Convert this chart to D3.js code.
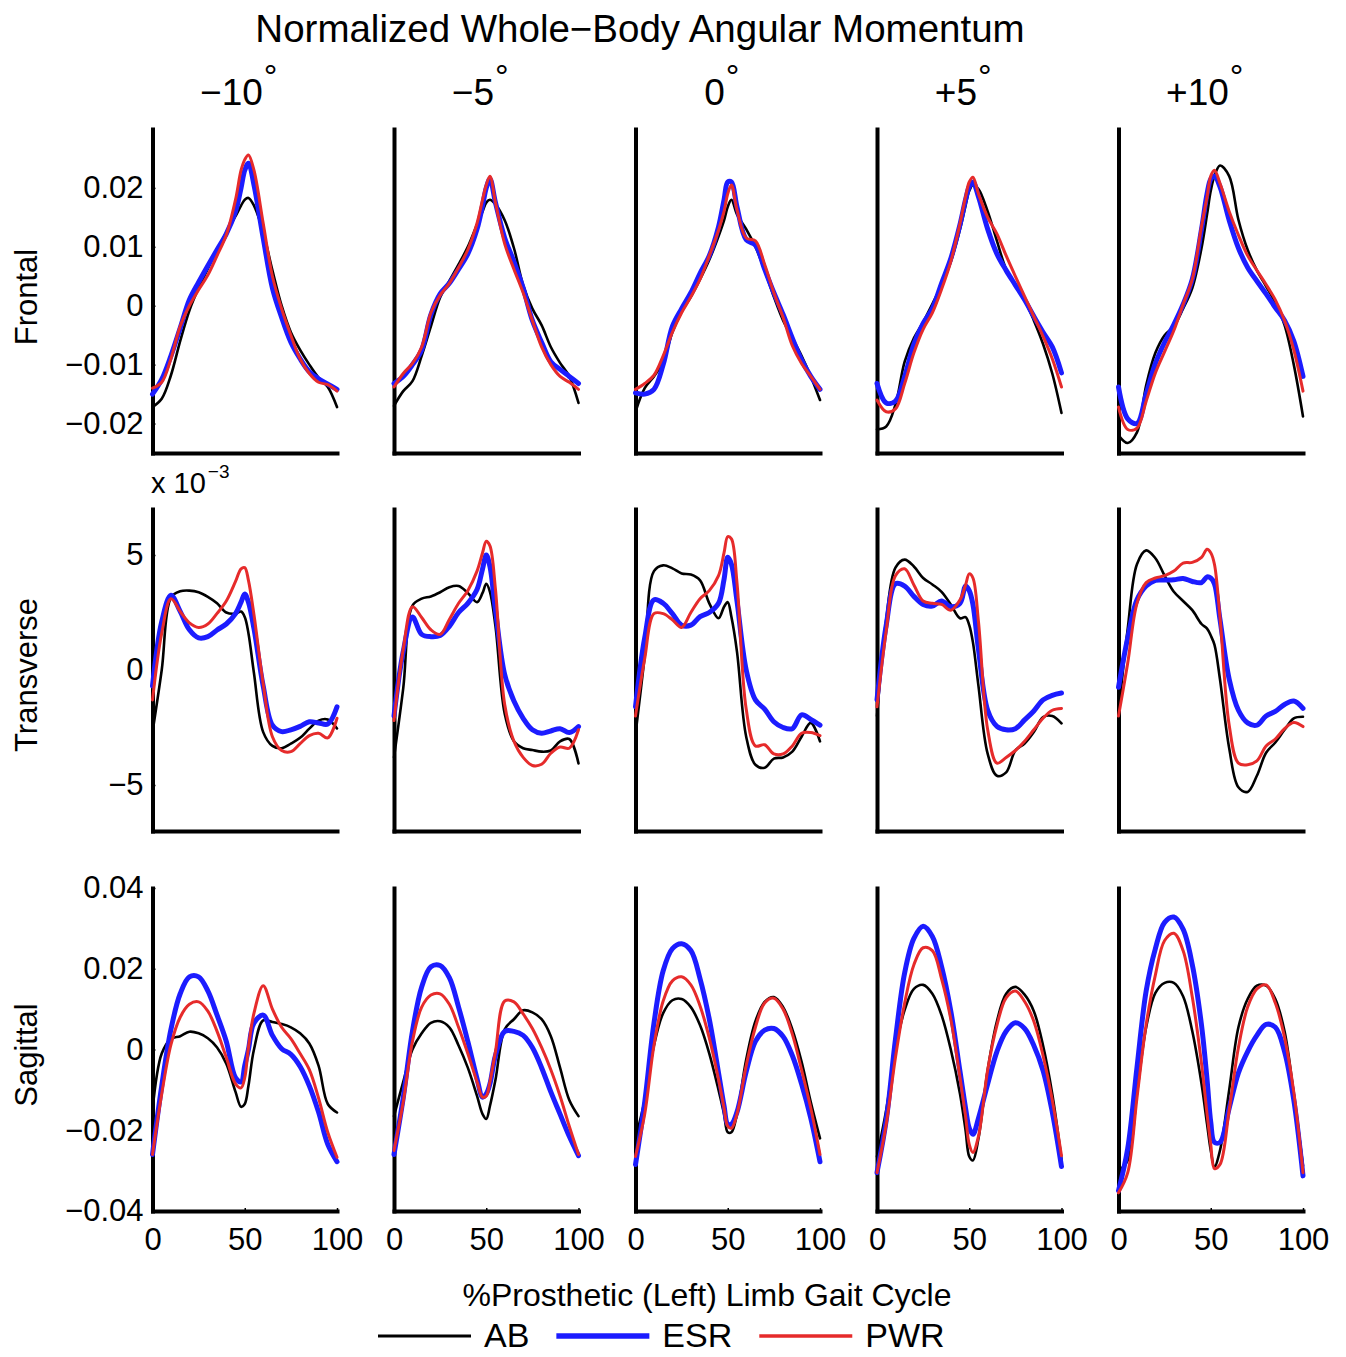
<!DOCTYPE html>
<html><head><meta charset="utf-8">
<script src="https://cdn.jsdelivr.net/npm/d3@7"></script>
<style>
body{margin:0;background:#fff}
svg{display:block}
text{font-family:"Liberation Sans",Arial,Helvetica,sans-serif;fill:#000}
</style>
</head><body>
<svg id="chart" width="1346" height="1357"></svg>
<script>
// ---------- DATA ----------
const gaitPct = [0,5,10,15,20,25,30,35,40,45,48,50,52,55,60,65,70,75,80,85,90,95,100];
const conditions = ["\u221210","\u22125","0","+5","+10"];
const planes = ["Frontal","Transverse","Sagittal"];
const groups = ["AB","ESR","PWR"];

const frontalTicks = [-0.02,-0.01,0,0.01,0.02];
const frontalTickLabels = ["\u22120.02","\u22120.01","0","0.01","0.02"];
const transverseTicks = [-5,0,5];            // x 10^-3
const transverseTickLabels = ["\u22125","0","5"];
const sagittalTicks = [-0.04,-0.02,0,0.02,0.04];
const sagittalTickLabels = ["\u22120.04","\u22120.02","0","0.02","0.04"];
const xTicks = [0,50,100];
const xTickLabels = ["0","50","100"];

// Frontal (one array per condition: -10, -5, 0, +5, +10)
const frontalAB = [
 [-0.0172,-0.0158,-0.0118,-0.006,-0.0008,0.003,0.0063,0.0095,0.0124,0.0152,0.017,0.018,0.0183,0.017,0.0125,0.006,0.0,-0.0045,-0.0075,-0.01,-0.0122,-0.0138,-0.0172],
 [-0.017,-0.0145,-0.0128,-0.0085,-0.0035,0.0014,0.0042,0.007,0.01,0.0138,0.016,0.0175,0.018,0.0172,0.0145,0.0098,0.0035,-0.0005,-0.0033,-0.007,-0.0097,-0.012,-0.0165],
 [-0.018,-0.014,-0.012,-0.0095,-0.0045,-0.001,0.0015,0.0045,0.0078,0.0118,0.0145,0.0168,0.018,0.0155,0.013,0.01,0.006,0.0015,-0.0025,-0.0055,-0.0085,-0.012,-0.016],
 [-0.021,-0.0205,-0.0168,-0.0095,-0.0055,-0.0028,0.0003,0.0035,0.0075,0.013,0.017,0.0195,0.0205,0.0198,0.016,0.011,0.0062,0.0035,0.001,-0.0025,-0.0065,-0.0115,-0.0182],
 [-0.022,-0.0233,-0.0215,-0.0135,-0.008,-0.005,-0.0035,-0.0005,0.003,0.0098,0.0155,0.0195,0.022,0.0238,0.022,0.0146,0.0095,0.006,0.0033,0.0005,-0.0033,-0.01,-0.0188]
];
const frontalESR = [
 [-0.015,-0.0125,-0.0085,-0.0038,0.001,0.004,0.0068,0.0095,0.0122,0.016,0.02,0.023,0.0242,0.0205,0.0115,0.003,-0.002,-0.0062,-0.009,-0.0112,-0.0124,-0.0133,-0.0142],
 [-0.0132,-0.012,-0.01,-0.0075,-0.0015,0.002,0.0038,0.0062,0.0088,0.013,0.017,0.02,0.0215,0.0175,0.0115,0.0075,0.003,-0.0025,-0.0062,-0.0095,-0.0108,-0.012,-0.0132],
 [-0.0148,-0.015,-0.0142,-0.01,-0.0035,-0.0005,0.0022,0.0055,0.0085,0.0134,0.018,0.021,0.021,0.0168,0.0112,0.0103,0.0062,0.0022,-0.0015,-0.0055,-0.0092,-0.012,-0.0142],
 [-0.0132,-0.0165,-0.0162,-0.012,-0.0065,-0.003,-0.0005,0.0038,0.008,0.0138,0.018,0.0202,0.021,0.0185,0.013,0.0088,0.006,0.0035,0.001,-0.0018,-0.0045,-0.007,-0.0114],
 [-0.0138,-0.0192,-0.02,-0.015,-0.0098,-0.0062,-0.0032,0.0002,0.0045,0.013,0.019,0.0215,0.022,0.0202,0.0145,0.0098,0.0065,0.0042,0.002,-0.0003,-0.0025,-0.006,-0.012]
];
const frontalPWR = [
 [-0.014,-0.013,-0.009,-0.0035,0.0,0.0027,0.0052,0.0085,0.012,0.018,0.023,0.0248,0.0256,0.023,0.014,0.005,-0.0005,-0.005,-0.009,-0.0115,-0.013,-0.0134,-0.0145],
 [-0.0138,-0.0115,-0.0098,-0.007,-0.0012,0.0018,0.0038,0.0065,0.0095,0.014,0.018,0.0205,0.022,0.0175,0.0105,0.0062,0.0022,-0.0025,-0.007,-0.01,-0.012,-0.013,-0.0142],
 [-0.0142,-0.0132,-0.0118,-0.0085,-0.0045,-0.0012,0.0015,0.0045,0.0085,0.0128,0.016,0.019,0.0205,0.0163,0.0115,0.011,0.007,0.0022,-0.002,-0.0068,-0.0098,-0.012,-0.0142],
 [-0.016,-0.018,-0.0175,-0.0132,-0.008,-0.004,-0.0012,0.0028,0.0075,0.014,0.0185,0.021,0.0218,0.019,0.015,0.0122,0.0085,0.005,0.0016,-0.0018,-0.0052,-0.009,-0.0138],
 [-0.0172,-0.021,-0.0208,-0.0162,-0.0114,-0.0078,-0.0042,0.0002,0.0045,0.0135,0.0185,0.022,0.023,0.0208,0.016,0.012,0.0085,0.006,0.0036,0.001,-0.0025,-0.0075,-0.0145]
];

// Transverse (values in units of 10^-3)
const transverseAB = [
 [-2.7,0.0,3.15,3.42,3.45,3.38,3.18,2.9,2.5,2.45,2.54,2.3,1.6,-0.14,-2.7,-3.3,-3.4,-3.2,-2.95,-2.55,-2.2,-2.15,-2.54],
 [-3.8,-0.8,2.8,3.1,3.2,3.38,3.6,3.65,3.35,2.95,3.35,3.75,3.4,1.9,-1.9,-3.1,-3.4,-3.48,-3.55,-3.5,-3.1,-3.0,-4.06],
 [-2.8,0.6,4.3,4.55,4.42,4.2,4.15,3.9,2.9,2.25,2.75,2.95,2.3,0.8,-2.9,-4.12,-4.25,-3.85,-3.8,-3.55,-2.9,-2.3,-3.1],
 [-2.0,2.2,4.45,4.8,4.5,4.0,3.72,3.4,2.85,2.25,2.3,1.95,1.2,-0.7,-3.65,-4.6,-4.45,-3.5,-3.2,-2.7,-2.05,-2.0,-2.32],
 [-1.9,1.8,4.6,5.2,4.86,4.1,3.4,3.0,2.6,2.0,1.8,1.5,1.1,-0.4,-3.4,-5.1,-5.3,-4.6,-3.6,-3.15,-2.6,-2.1,-2.03]
];
const transverseESR = [
 [-0.7,2.1,3.25,2.55,1.75,1.4,1.45,1.74,2.0,2.45,2.95,3.3,2.95,1.8,-0.7,-2.4,-2.68,-2.6,-2.45,-2.25,-2.3,-2.35,-1.6],
 [-2.0,0.8,2.3,1.55,1.45,1.5,1.9,2.5,2.9,3.5,4.4,5.0,4.5,2.6,-0.2,-1.35,-2.1,-2.6,-2.75,-2.65,-2.55,-2.72,-2.46],
 [-1.6,1.4,3.05,2.9,2.45,1.95,1.95,2.32,2.5,2.9,3.95,4.9,4.6,3.0,0.0,-1.3,-1.7,-2.25,-2.5,-2.55,-1.95,-2.15,-2.4],
 [-1.3,1.95,3.75,3.65,3.2,2.85,2.78,3.0,2.75,2.9,3.65,3.45,2.85,0.9,-1.75,-2.45,-2.6,-2.55,-2.17,-1.78,-1.3,-1.1,-1.0],
 [-0.75,1.4,3.05,3.65,3.9,3.91,3.92,3.98,3.85,3.8,4.05,4.0,3.75,2.2,-0.4,-1.75,-2.3,-2.4,-2.0,-1.8,-1.5,-1.35,-1.67]
];
const transversePWR = [
 [-1.3,1.6,3.1,2.55,2.05,1.85,2.0,2.46,3.0,3.85,4.4,4.45,3.9,2.4,-0.6,-2.9,-3.5,-3.55,-3.2,-2.85,-2.75,-2.95,-2.1],
 [-2.2,0.9,2.75,2.28,1.75,1.55,2.2,2.9,3.45,4.3,5.1,5.6,5.4,3.5,-1.5,-3.1,-3.8,-4.15,-4.1,-3.62,-3.35,-3.4,-2.6],
 [-2.0,0.5,2.45,2.45,2.18,1.85,2.5,3.1,3.45,4.1,5.1,5.8,5.7,3.8,-1.7,-3.3,-3.25,-3.65,-3.65,-3.3,-2.75,-2.72,-2.85],
 [-1.6,1.7,4.1,4.4,3.7,3.0,2.9,2.85,2.6,3.05,3.7,4.18,4.0,2.1,-2.6,-4.05,-3.8,-3.5,-3.1,-2.6,-2.1,-1.75,-1.67],
 [-2.0,0.3,2.9,3.8,4.0,4.1,4.3,4.65,4.68,4.9,5.25,5.1,4.6,2.3,-2.4,-4.05,-4.12,-3.95,-3.3,-3.0,-2.55,-2.28,-2.46]
];

// Sagittal
const sagittalAB = [
 [-0.015,-0.001,0.0026,0.0033,0.0044,0.004,0.0028,0.0005,-0.0035,-0.0105,-0.0142,-0.0135,-0.009,0.0,0.0072,0.0068,0.0063,0.0055,0.004,0.0015,-0.004,-0.0135,-0.0156],
 [-0.0165,-0.008,0.0,0.004,0.0066,0.007,0.0055,0.001,-0.0045,-0.0115,-0.016,-0.0172,-0.014,-0.0075,0.005,0.0075,0.0097,0.0092,0.0075,0.0033,-0.0045,-0.0125,-0.0165],
 [-0.022,-0.0125,0.001,0.009,0.0122,0.0125,0.0105,0.006,-0.001,-0.01,-0.016,-0.0205,-0.0205,-0.016,-0.0025,0.007,0.0118,0.013,0.0105,0.005,-0.003,-0.013,-0.022],
 [-0.0265,-0.015,0.0,0.0098,0.015,0.016,0.0138,0.0085,0.0,-0.011,-0.02,-0.0265,-0.0275,-0.022,-0.005,0.007,0.0138,0.0155,0.0136,0.0095,0.001,-0.011,-0.0272],
 [-0.03,-0.0275,-0.011,0.0055,0.014,0.0165,0.0165,0.0132,0.0045,-0.0085,-0.0185,-0.025,-0.029,-0.025,-0.01,0.0055,0.0125,0.0158,0.0158,0.0125,0.0045,-0.011,-0.0288]
];
const sagittalESR = [
 [-0.026,-0.009,0.005,0.0138,0.018,0.018,0.0145,0.0085,0.002,-0.007,-0.008,-0.004,0.0,0.0066,0.0085,0.0035,0.0002,-0.0012,-0.0042,-0.009,-0.0155,-0.0235,-0.0278],
 [-0.026,-0.012,0.0045,0.0155,0.0205,0.0208,0.0178,0.0105,0.002,-0.0072,-0.0118,-0.011,-0.0085,-0.0015,0.0045,0.0045,0.0035,0.0005,-0.0045,-0.0105,-0.016,-0.0215,-0.0263],
 [-0.0285,-0.013,0.0065,0.0195,0.025,0.0262,0.0245,0.0175,0.0075,-0.0058,-0.014,-0.0185,-0.0185,-0.0155,-0.0055,0.002,0.0048,0.0052,0.0032,-0.0015,-0.0085,-0.017,-0.0278],
 [-0.0305,-0.0175,0.0025,0.019,0.0275,0.0305,0.028,0.0205,0.0095,-0.0055,-0.0145,-0.0195,-0.021,-0.017,-0.0085,-0.0005,0.0045,0.0066,0.0052,0.001,-0.0052,-0.0155,-0.029],
 [-0.035,-0.0245,-0.0045,0.0145,0.025,0.0315,0.0328,0.0298,0.021,0.006,-0.0075,-0.018,-0.023,-0.023,-0.0145,-0.0058,-0.0005,0.0035,0.0062,0.0055,-0.0005,-0.0125,-0.0313]
];
const sagittalPWR = [
 [-0.026,-0.011,0.0012,0.008,0.0112,0.0118,0.0095,0.0045,-0.002,-0.0085,-0.0095,-0.007,0.0005,0.009,0.0158,0.01,0.0055,0.0027,-0.001,-0.005,-0.012,-0.0205,-0.0267],
 [-0.025,-0.013,0.002,0.0105,0.0135,0.0138,0.0112,0.0055,-0.001,-0.008,-0.0118,-0.0115,-0.008,-0.0005,0.012,0.0118,0.0088,0.0052,0.0005,-0.005,-0.0115,-0.019,-0.026],
 [-0.0265,-0.016,0.001,0.012,0.017,0.018,0.016,0.0108,0.0028,-0.0074,-0.0145,-0.019,-0.0195,-0.016,-0.004,0.0055,0.0115,0.0127,0.01,0.0038,-0.005,-0.0145,-0.026],
 [-0.0305,-0.0185,-0.002,0.0115,0.021,0.0252,0.0245,0.0175,0.0075,-0.007,-0.0165,-0.0235,-0.0255,-0.0215,-0.005,0.006,0.0128,0.0145,0.0119,0.007,-0.0015,-0.0125,-0.0263],
 [-0.0355,-0.0305,-0.012,0.0062,0.0185,0.027,0.0288,0.0245,0.013,-0.0035,-0.016,-0.0235,-0.0295,-0.0285,-0.015,0.0005,0.0105,0.015,0.016,0.0115,0.003,-0.0105,-0.0305]
];

// ---------- STYLE / LAYOUT ----------
const colors = {AB:"#000000", ESR:"#1c1cff", PWR:"#e62b2b"};
const widths = {AB:2.6, ESR:5, PWR:3};
const colX0 = 152.5, colStep = 241.5, plotW = 184.5;
const rowsLayout = [
  {top:129, bottom:453, domain:[-0.025,0.03], ticks:frontalTicks, labels:frontalTickLabels},
  {top:509, bottom:831, domain:[-7,7], ticks:transverseTicks, labels:transverseTickLabels},
  {top:888, bottom:1211, domain:[-0.04,0.04], ticks:sagittalTicks, labels:sagittalTickLabels}
];
const seriesData = {
  Frontal:{AB:frontalAB, ESR:frontalESR, PWR:frontalPWR},
  Transverse:{AB:transverseAB, ESR:transverseESR, PWR:transversePWR},
  Sagittal:{AB:sagittalAB, ESR:sagittalESR, PWR:sagittalPWR}
};

const svg = d3.select("#chart");
const FONT = '"Liberation Sans",Arial,Helvetica,sans-serif';

// Title
svg.append("text").attr("x",640).attr("y",42).attr("text-anchor","middle")
  .attr("font-size",38.5).text("Normalized Whole\u2212Body Angular Momentum");

// Column headers
conditions.forEach((c,i)=>{
  const cx = colX0 + i*colStep + plotW/2 - 6;
  const t = svg.append("text").attr("x",cx).attr("y",105).attr("text-anchor","middle").attr("font-size",37);
  t.append("tspan").text(c);
  t.append("tspan").attr("font-size",34).attr("dy",-17).attr("dx",1).text("\u00b0");
});

// Row labels
const rowLabelY = [297, 675, 1055];
planes.forEach((p,r)=>{
  svg.append("text").attr("transform",`translate(37,${rowLabelY[r]}) rotate(-90)`)
    .attr("text-anchor","middle").attr("font-size",31).text(p);
});

// x 10^-3 multiplier
const mult = svg.append("text").attr("x",151).attr("y",493).attr("font-size",29);
mult.append("tspan").text("x 10");
mult.append("tspan").attr("font-size",19).attr("dy",-15).attr("dx",2).text("\u22123");

// Panels
planes.forEach((plane,r)=>{
  const L = rowsLayout[r];
  const y = d3.scaleLinear().domain(L.domain).range([L.bottom, L.top]);
  conditions.forEach((cond,c)=>{
    const x0 = colX0 + c*colStep;
    const x = d3.scaleLinear().domain([0,100]).range([x0, x0+plotW]);
    const g = svg.append("g");

    // y axis
    const ya = d3.axisLeft(y).tickSizeOuter(0).tickSizeInner(-3).tickPadding(9);
    if (c===0) ya.tickValues(L.ticks).tickFormat((d,i)=>L.labels[i]);
    else ya.tickValues([]);
    const gy = g.append("g").attr("transform",`translate(${x0},0)`).call(ya);
    // x axis
    const xa = d3.axisBottom(x).tickSizeOuter(0).tickSizeInner(-3).tickPadding(17);
    if (r===2) xa.tickValues(xTicks).tickFormat((d,i)=>xTickLabels[i]);
    else xa.tickValues([]);
    const gx = g.append("g").attr("transform",`translate(0,${L.bottom})`).call(xa);

    [gy,gx].forEach(a=>{
      a.attr("font-family",FONT).attr("font-size",31);
      a.select(".domain").attr("stroke","#000").attr("stroke-width",4).attr("stroke-linecap","square");
      a.selectAll(".tick line").attr("stroke","#000").attr("stroke-width",1.5);
      a.selectAll(".tick text").attr("fill","#000");
    });

    const line = d3.line()
      .x((d,i)=>x(gaitPct[i]))
      .y(d=>y(d))
      .curve(d3.curveCatmullRom.alpha(0.5));
    groups.forEach(grp=>{
      g.append("path").datum(seriesData[plane][grp][c])
        .attr("d",line).attr("fill","none")
        .attr("stroke",colors[grp]).attr("stroke-width",widths[grp])
        .attr("stroke-linejoin","round").attr("stroke-linecap","round");
    });
  });
});

// X axis label
svg.append("text").attr("x",707).attr("y",1306).attr("text-anchor","middle")
  .attr("font-size",32).text("%Prosthetic (Left) Limb Gait Cycle");

// Legend
let lx = 378;
const ly = 1336;
groups.forEach(grp=>{
  svg.append("line").attr("x1",lx).attr("x2",lx+93).attr("y1",ly).attr("y2",ly)
    .attr("stroke",colors[grp]).attr("stroke-width",widths[grp]+0.5);
  const t = svg.append("text").attr("x",lx+106).attr("y",1347).attr("font-size",34).text(grp);
  lx = lx + 106 + t.node().getComputedTextLength() + 27;
});
</script>
</body></html>
